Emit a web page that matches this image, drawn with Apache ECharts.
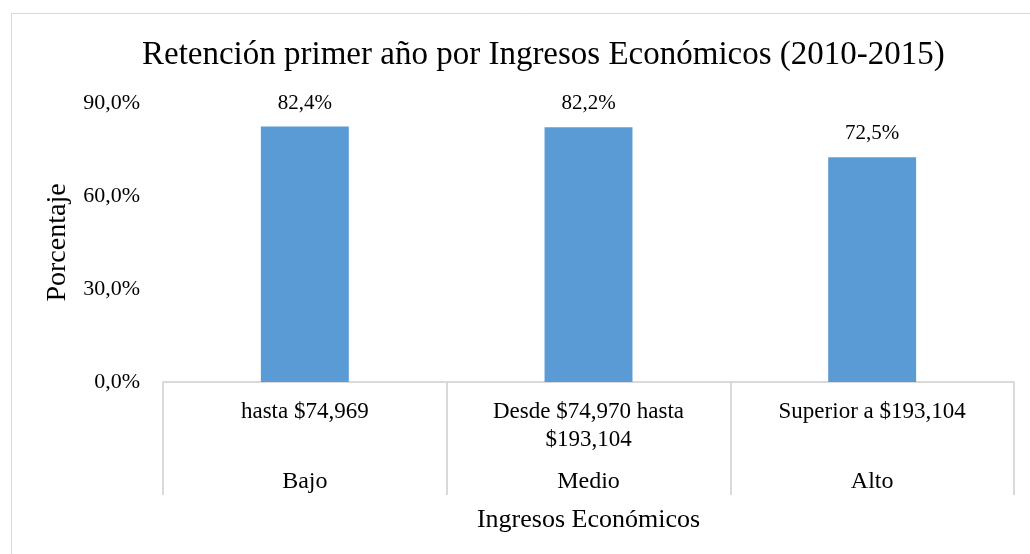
<html>
<head>
    <meta charset="utf-8">
    <script src="https://cdn.jsdelivr.net/npm/echarts@6/dist/echarts.min.js"></script>
    <style>
        html, body { margin: 0; padding: 0; background: #fff; }
        #main { width: 1030px; height: 554px; }
    </style>
</head>
<body>
    <div id="main"></div>
    <script>
        var rangos = ['hasta $74,969', 'Desde $74,970 hasta\n$193,104', 'Superior a $193,104'];
        var niveles = ['Bajo', 'Medio', 'Alto'];
        var retencion = [82.4, 82.2, 72.5];
        var yTicks = [0, 30, 60, 90];

        var serif = '"Liberation Serif", "DejaVu Serif", serif';
        var chart = echarts.init(document.getElementById('main'));

        function pct(v) {
            return v.toFixed(1).replace('.', ',') + '%';
        }

        var option = {
            animation: false,
            backgroundColor: '#fff',
            textStyle: { fontFamily: serif, color: '#000' },
            graphic: [{
                type: 'rect',
                shape: { x: 11.5, y: 13.5, width: 1040, height: 560 },
                style: { fill: 'none', stroke: '#d9d9d9', lineWidth: 1 }
            }],
            title: {
                text: 'Retención primer año por Ingresos Económicos (2010-2015)',
                left: 137,
                top: 34,
                textStyle: { fontFamily: serif, fontSize: 33, fontWeight: 'normal', color: '#000' }
            },
            grid: { left: 163, right: 16, top: 103, bottom: 172 },
            yAxis: {
                type: 'value',
                min: yTicks[0],
                max: yTicks[yTicks.length - 1],
                interval: 30,
                name: 'Porcentaje',
                nameLocation: 'middle',
                nameGap: 91,
                nameTextStyle: { fontFamily: serif, fontSize: 28, color: '#000' },
                axisLine: { show: false },
                axisTick: { show: false },
                splitLine: { show: false },
                axisLabel: {
                    fontFamily: serif, fontSize: 22, color: '#000', margin: 23,
                    formatter: pct
                }
            },
            xAxis: [{
                type: 'category',
                data: rangos,
                position: 'bottom',
                axisLine: { lineStyle: { color: '#d9d9d9', width: 2 } },
                axisTick: { show: true, interval: 0, length: 113, lineStyle: { color: '#d9d9d9', width: 2 } },
                axisLabel: { fontFamily: serif, fontSize: 23, color: '#000', margin: 16, interval: 0, lineHeight: 28 }
            }, {
                type: 'category',
                data: niveles,
                position: 'bottom',
                offset: 88,
                axisLine: { show: false },
                axisTick: { show: false },
                axisLabel: { fontFamily: serif, fontSize: 24, color: '#000', margin: 0, interval: 0 },
                name: 'Ingresos Económicos',
                nameLocation: 'middle',
                nameGap: 37,
                nameTextStyle: { fontFamily: serif, fontSize: 26, color: '#000' }
            }],
            series: [{
                type: 'bar',
                data: retencion,
                barWidth: '31%',
                itemStyle: { color: '#5b9bd5' },
                label: {
                    show: true,
                    position: 'top',
                    distance: 13,
                    fontFamily: serif,
                    fontSize: 21,
                    color: '#000',
                    formatter: function (p) { return pct(p.value); }
                }
            }]
        };

        chart.setOption(option);
        window.onresize = function () {
            chart.resize();
        };
    </script>
</body>
</html>
